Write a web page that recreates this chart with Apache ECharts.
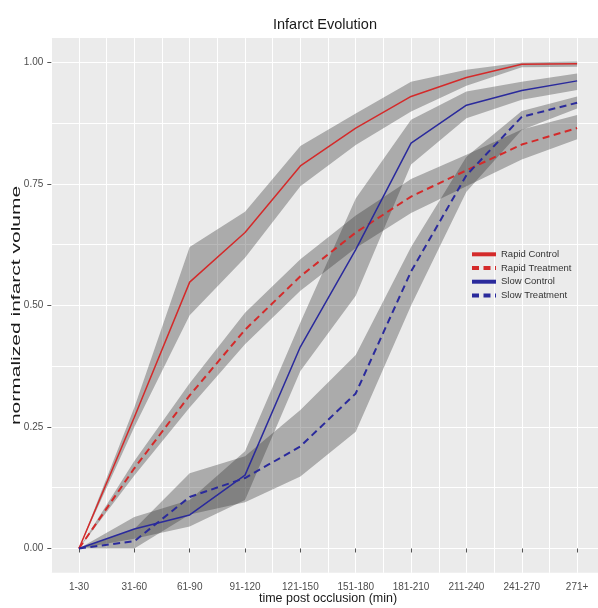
<!DOCTYPE html>
<html>
<head>
<meta charset="utf-8">
<script src="https://cdn.jsdelivr.net/npm/echarts@6/dist/echarts.min.js"></script>
<style>html,body{margin:0;padding:0;background:#fff}#c{width:598px;height:608px}</style>
</head>
<body>
<div id="c"></div>
<script>
var categories = ['1-30','31-60','61-90','91-120','121-150','151-180','181-210','211-240','241-270','271+'];
var yTickValues = [0, 0.25, 0.5, 0.75, 1];

var rapidControl      = [0, 0.27, 0.548, 0.65, 0.787, 0.865, 0.93, 0.969, 0.996, 0.997];
var rapidControlLow   = [0, 0.25, 0.48, 0.598, 0.745, 0.83, 0.899, 0.952, 0.99, 0.991];
var rapidControlHigh  = [0, 0.29, 0.62, 0.693, 0.828, 0.895, 0.96, 0.985, 1.0, 1.002];

var rapidTreatment     = [0, 0.165, 0.315, 0.45, 0.56, 0.65, 0.724, 0.778, 0.831, 0.865];
var rapidTreatmentLow  = [0, 0.15, 0.29, 0.42, 0.53, 0.618, 0.69, 0.745, 0.80, 0.842];
var rapidTreatmentHigh = [0, 0.18, 0.34, 0.485, 0.595, 0.685, 0.76, 0.81, 0.862, 0.892];

var slowControl     = [0, 0.04, 0.069, 0.151, 0.415, 0.615, 0.834, 0.912, 0.942, 0.962];
var slowControlLow  = [0, 0.02, 0.045, 0.10, 0.365, 0.52, 0.79, 0.885, 0.923, 0.943];
var slowControlHigh = [0, 0.065, 0.10, 0.20, 0.465, 0.72, 0.882, 0.94, 0.96, 0.977];

var slowTreatment     = [0, 0.015, 0.106, 0.145, 0.21, 0.319, 0.57, 0.768, 0.888, 0.917];
var slowTreatmentLow  = [0, 0.0, 0.07, 0.095, 0.148, 0.24, 0.50, 0.734, 0.861, 0.905];
var slowTreatmentHigh = [0, 0.04, 0.155, 0.19, 0.285, 0.398, 0.62, 0.806, 0.90, 0.93];

var RED = '#d42a2a', BLUE = '#2a2a9c', BAND = 'rgba(51,51,51,0.35)';

function band(id, low, high) {
  var diff = high.map(function (h, i) { return h - low[i]; });
  return [
    { name: id + '_lo', type: 'line', stack: id, data: low, symbol: 'none', silent: true,
      lineStyle: { opacity: 0 }, z: 1, xAxisIndex: 0, yAxisIndex: 0 },
    { name: id + '_hi', type: 'line', stack: id, data: diff, symbol: 'none', silent: true,
      lineStyle: { opacity: 0 }, areaStyle: { color: BAND, opacity: 1 }, z: 1, xAxisIndex: 0, yAxisIndex: 0 }
  ];
}
function line(name, data, color, dashed) {
  return { name: name, type: 'line', data: data, symbol: 'none', z: 3, xAxisIndex: 0, yAxisIndex: 0,
    itemStyle: { color: color },
    lineStyle: { color: color, width: dashed ? 2 : 1.5, type: dashed ? [7, 4.5] : 'solid' } };
}

var series = []
  .concat(band('rc', rapidControlLow, rapidControlHigh))
  .concat(band('rt', rapidTreatmentLow, rapidTreatmentHigh))
  .concat(band('sc', slowControlLow, slowControlHigh))
  .concat(band('st', slowTreatmentLow, slowTreatmentHigh))
  .concat([
    line('Rapid Control', rapidControl, RED, false),
    line('Rapid Treatment', rapidTreatment, RED, true),
    line('Slow Control', slowControl, BLUE, false),
    line('Slow Treatment', slowTreatment, BLUE, true)
  ]);

// panel geometry (y range -0.05..1.05 in grid 0; grid 1 covers exactly 0..1 for gridlines)
var G_LEFT = 51.3, G_WIDTH = 553.5, G_TOP = 38.1, G_HEIGHT = 534.7;
var unit = G_HEIGHT / 1.1;

var chart = echarts.init(document.getElementById('c'), null, { renderer: 'canvas' });
chart.setOption({
  animation: false,
  backgroundColor: '#ffffff',
  textStyle: { fontFamily: 'Liberation Sans' },
  title: {
    text: 'Infarct Evolution', left: 268, top: 12,
    textStyle: { fontSize: 14.5, fontWeight: 'normal', color: '#1a1a1a', fontFamily: 'Liberation Sans' }
  },
  graphic: [
    { type: 'text', x: 16.5, y: G_TOP + G_HEIGHT / 2, rotation: Math.PI / 2, scaleX: 1.68, scaleY: 1,
      silent: true,
      style: { text: 'normalized infarct volume', fontSize: 12.5, fontFamily: 'Liberation Sans',
               fill: '#1a1a1a', align: 'center', verticalAlign: 'middle',
               textAlign: 'center', textVerticalAlign: 'middle' } }
  ],
  grid: [
    { left: G_LEFT, top: G_TOP, width: G_WIDTH, height: G_HEIGHT, show: true,
      backgroundColor: '#EBEBEB', borderWidth: 0, containLabel: false, outerBoundsMode: 'none', z: 0 },
    { left: G_LEFT, top: G_TOP + 0.05 * unit, width: G_WIDTH, height: unit, show: false,
      containLabel: false, outerBoundsMode: 'none' }
  ],
  legend: {
    orient: 'vertical', left: 470, top: 248.3, padding: 0,
    itemWidth: 24, itemHeight: 10, itemGap: 1.7,
    data: ['Rapid Control', 'Rapid Treatment', 'Slow Control', 'Slow Treatment'],
    lineStyle: { width: 4 },
    itemStyle: { opacity: 0 },
    textStyle: { fontSize: 9.5, color: '#333', lineHeight: 12, fontFamily: 'Liberation Sans' },
    selectedMode: false
  },
  xAxis: [
    { type: 'category', data: categories, boundaryGap: true, gridIndex: 0,
      name: 'time post occlusion (min)', nameLocation: 'middle', nameGap: 19.5, nameMoveOverlap: false,
      nameTextStyle: { fontSize: 12.5, color: '#1a1a1a', verticalAlign: 'top' },
      axisLine: { show: false },
      axisTick: { show: true, alignWithLabel: true, length: 4, lineStyle: { color: '#555' } },
      axisLabel: { fontSize: 10, color: '#4d4d4d', margin: 9, interval: 0 },
      splitLine: { show: false } },
    { type: 'value', min: 0.5, max: 10.5, interval: 0.5, position: 'bottom', gridIndex: 0,
      axisLine: { show: false }, axisTick: { show: false }, axisLabel: { show: false },
      splitLine: { show: true, lineStyle: { color: '#ffffff', width: 1 } } },
    { type: 'value', min: 0, max: 1, gridIndex: 1, show: false }
  ],
  yAxis: [
    { type: 'value', min: -0.05, max: 1.05, gridIndex: 0,
      axisLine: { show: false },
      axisTick: { show: true, length: 4, lineStyle: { color: '#555' }, customValues: yTickValues },
      axisLabel: { fontSize: 10, color: '#4d4d4d', margin: 8, customValues: yTickValues,
        formatter: function (v) { return v.toFixed(2); } },
      splitLine: { show: false } },
    { type: 'value', min: 0, max: 1, interval: 0.125, gridIndex: 1,
      axisLine: { show: false }, axisTick: { show: false }, axisLabel: { show: false },
      splitLine: { show: true, lineStyle: { color: '#ffffff', width: 1 } } }
  ],
  series: series
});
</script>
</body>
</html>
